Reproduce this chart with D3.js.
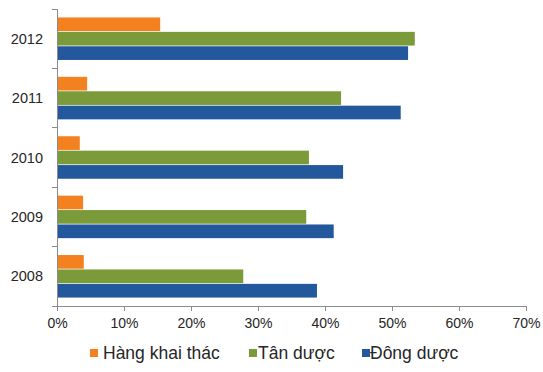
<!DOCTYPE html>
<meta charset="utf-8">
<style>
    body { margin: 0; background: #fff; }
    svg { display: block; font-family: "Liberation Sans", Arial, sans-serif; }
    .axis path, .axis line { stroke: #8c8c8c; shape-rendering: crispEdges; }
    .axis text { fill: #262626; }
</style>
<body>
<div id="chart"></div>
<script src="https://cdnjs.cloudflare.com/ajax/libs/d3/7.8.5/d3.min.js"></script>
<script>
    // years from top to bottom
    var years = ["2012", "2011", "2010", "2009", "2008"];
    var seriesNames = ["Hàng khai thác", "Tân dược", "Đông dược"];
    var seriesColors = ["#f4811f", "#7b9b3a", "#24589c"];
    // shares (%) per year, same order as years
    var hangKhaiThac = [15.4, 4.5, 3.4, 3.9, 4.0];
    var tanDuoc = [53.4, 42.4, 37.6, 37.2, 27.8];
    var dongDuoc = [52.4, 51.3, 42.7, 41.3, 38.8];
    var xTicks = [0, 10, 20, 30, 40, 50, 60, 70];

    var width = 543, height = 372;
    var margin = {top: 9, right: 17, bottom: 66, left: 57};
    var innerW = width - margin.left - margin.right,
        innerH = height - margin.top - margin.bottom;

    var svg = d3.select("#chart").append("svg")
        .attr("width", width)
        .attr("height", height);
    var g = svg.append("g")
        .attr("transform", "translate(" + margin.left + "," + margin.top + ")");

    var x = d3.scaleLinear().domain([0, 70]).range([0, innerW]);
    var y = d3.scaleBand().domain(years).range([0, innerH])
        .paddingInner(0.26).paddingOuter(0.13);
    var ySub = d3.scaleBand().domain(seriesNames).range([0, y.bandwidth()]).padding(0.05);

    var allSeries = [hangKhaiThac, tanDuoc, dongDuoc];

    // bars
    years.forEach(function(yr, i) {
        var grp = g.append("g").attr("transform", "translate(0," + y(yr) + ")");
        grp.selectAll("rect")
            .data(seriesNames)
            .enter().append("rect")
            .attr("x", 0)
            .attr("y", function(s) { return ySub(s); })
            .attr("height", ySub.bandwidth())
            .attr("width", function(s, j) { return x(allSeries[j][i]); })
            .attr("fill", function(s, j) { return seriesColors[j]; });
    });

    // y axis with ticks between categories
    var yAxisG = g.append("g").attr("class", "axis");
    yAxisG.append("line").attr("x1", 0).attr("x2", 0).attr("y1", 0).attr("y2", innerH);
    var step = innerH / years.length;
    yAxisG.selectAll(".sep").data(d3.range(years.length + 1)).enter().append("line")
        .attr("x1", -5).attr("x2", 0)
        .attr("y1", function(d) { return d * step; })
        .attr("y2", function(d) { return d * step; });
    yAxisG.selectAll("text").data(years).enter().append("text")
        .attr("x", -14)
        .attr("y", function(d) { return y(d) + y.bandwidth() / 2; })
        .attr("dy", "0.35em")
        .attr("text-anchor", "end")
        .style("font-size", "14.5px")
        .text(function(d) { return d; });

    // x axis
    var xAxis = d3.axisBottom(x)
        .tickValues(xTicks)
        .tickSize(5)
        .tickPadding(7)
        .tickFormat(function(d) { return d + "%"; });
    g.append("g").attr("class", "axis")
        .attr("transform", "translate(0," + innerH + ")")
        .call(xAxis)
        .call(function(a) { a.select(".domain").attr("d", "M0,0H" + innerW); })
        .selectAll("text").style("font-size", "14px");

    // legend
    var legendSq = [90, 249, 362];
    var legendTx = [103, 258, 370];
    var legend = svg.append("g").attr("transform", "translate(0,353)");
    seriesNames.forEach(function(s, j) {
        legend.append("rect")
            .attr("x", legendSq[j]).attr("y", -4)
            .attr("width", 8).attr("height", 8)
            .attr("fill", seriesColors[j]);
        legend.append("text")
            .attr("x", legendTx[j]).attr("y", 0)
            .attr("dy", "0.35em")
            .style("font-size", "17.5px")
            .attr("fill", "#262626")
            .text(s);
    });
</script>
</body>
